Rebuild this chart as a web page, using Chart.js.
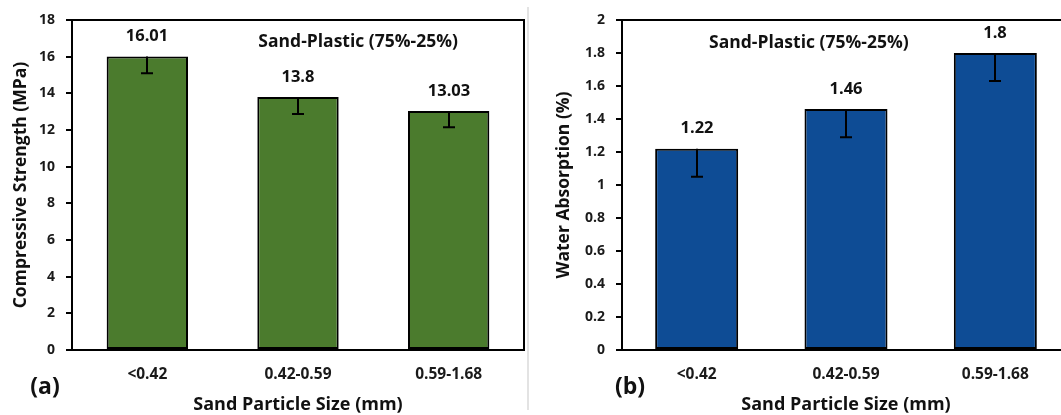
<!DOCTYPE html>
<html><head><meta charset="utf-8">
<script src="https://cdn.jsdelivr.net/npm/chart.js@4.4.1/dist/chart.umd.min.js"></script>
<style>
html,body{margin:0;padding:0;background:#fff;overflow:hidden;width:1061px;height:415px;}
#wrap{position:relative;width:1061px;height:415px;overflow:hidden;}
canvas{position:absolute;top:0;}
#ca{left:0;}
#cb{left:530px;}
#sep{position:absolute;left:527px;top:7px;width:2px;height:403px;background:#e3e3e3;}
</style></head><body>
<div id="wrap"><canvas id="ca" width="530" height="415"></canvas><div id="sep"></div><canvas id="cb" width="545" height="415"></canvas></div>
<script>
// ---- data ----
const categories = ['<0.42', '0.42-0.59', '0.59-1.68'];
const strengthValues = [16.01, 13.8, 13.03];
const strengthErrors = [0.92, 0.93, 0.88];
const strengthLabels = ['16.01', '13.8', '13.03'];
const strengthTicks = [0, 2, 4, 6, 8, 10, 12, 14, 16, 18];
const absorptionValues = [1.22, 1.46, 1.8];
const absorptionErrors = [0.17, 0.17, 0.17];
const absorptionLabels = ['1.22', '1.46', '1.8'];
const absorptionTicks = [0, 0.2, 0.4, 0.6, 0.8, 1, 1.2, 1.4, 1.6, 1.8, 2];

const FONT = '"Open Sans", Lato, sans-serif';

const extras = {
  id: 'extras',
  afterDatasetsDraw(chart, args, o) {
    const {ctx, chartArea: a, scales: {y}} = chart;
    const meta = chart.getDatasetMeta(0);
    ctx.save();
    ctx.strokeStyle = '#000';
    ctx.lineWidth = 2;
    ctx.fillStyle = '#111';
    ctx.textAlign = 'center';
    ctx.textBaseline = 'middle';
    meta.data.forEach((bar, i) => {
      const v = o.values[i], e = o.errors[i];
      const px = Math.round(bar.x);
      const top = y.getPixelForValue(v), bot = y.getPixelForValue(v - e);
      ctx.beginPath();
      ctx.moveTo(px, top); ctx.lineTo(px, bot);
      ctx.moveTo(px - o.cap, bot); ctx.lineTo(px + o.cap, bot);
      ctx.stroke();
      ctx.font = o.labelFont;
      ctx.fillText(o.labels[i], px, top - o.labelGap);
    });
    ctx.beginPath();
    ctx.moveTo(a.left, a.top); ctx.lineTo(a.right, a.top); ctx.lineTo(a.right, a.bottom);
    ctx.stroke();
    ctx.font = o.noteFont;
    ctx.fillText(o.note, a.left + o.noteX * (a.right - a.left), a.top + o.noteY * (a.bottom - a.top));
    ctx.font = o.letterFont;
    ctx.fillText(o.letter, o.letterX, o.letterY);
    ctx.restore();
  }
};

function makeChart(id, c) {
  return new Chart(document.getElementById(id), {
    type: 'bar',
    data: {
      labels: categories,
      datasets: [{
        data: c.values,
        backgroundColor: c.color,
        borderColor: '#000',
        borderWidth: 2,
        borderSkipped: false,
        categoryPercentage: 1,
        barPercentage: c.barPct
      }]
    },
    plugins: [extras],
    options: {
      responsive: false,
      animation: false,
      devicePixelRatio: 1,
      layout: {padding: {left: 0, right: c.padRight, top: 20, bottom: 0}},
      plugins: {
        legend: {display: false},
        tooltip: {enabled: false},
        extras: {
          values: c.values, errors: c.errors, labels: c.labels, cap: 6,
          labelFont: 'bold 16.5px ' + FONT, labelGap: 20,
          note: 'Sand-Plastic (75%-25%)', noteFont: 'bold 17.5px ' + FONT,
          noteX: c.noteX, noteY: c.noteY,
          letter: c.letter, letterFont: 'bold 23px ' + FONT, letterX: c.letterX, letterY: 387
        }
      },
      scales: {
        x: {
          grid: {display: false, drawTicks: false, tickLength: 0},
          border: {display: true, color: '#000', width: 2},
          ticks: {color: '#1a1a1a', font: {family: FONT, size: 15.5, weight: 'bold'}, padding: 15.5, maxRotation: 0},
          title: {display: true, text: 'Sand Particle Size (mm)', color: '#111',
                  font: {family: FONT, size: 18, weight: 'bold', lineHeight: 1.1}, padding: {top: 0, bottom: 0}},
          afterFit: s => { s.height = 65; }
        },
        y: {
          min: 0, max: c.max,
          afterBuildTicks: s => { s.ticks = c.ticks.map(v => ({value: v})); },
          grid: {display: true, drawOnChartArea: false, drawTicks: true, tickLength: 6, color: '#000', lineWidth: 2},
          border: {display: true, color: '#000', width: 2},
          ticks: {color: '#1a1a1a', font: {family: FONT, size: 14, weight: 'bold'}, padding: 11,
                  callback: v => String(+Number(v).toFixed(1))},
          title: {display: true, text: c.yTitle, color: '#111',
                  font: {family: FONT, size: 17.5, weight: 'bold', lineHeight: 1.2}, padding: {top: c.yTitlePad, bottom: 0}},
          afterFit: s => { s.width = c.yWidth; }
        }
      }
    }
  });
}

makeChart('ca', {
  values: strengthValues, errors: strengthErrors, labels: strengthLabels, ticks: strengthTicks,
  max: 18, color: '#4b7b2d', barPct: 0.54, padRight: 6, yWidth: 72, yTitlePad: 11,
  yTitle: 'Compressive Strength (MPa)', noteX: 0.633, noteY: 0.066, letter: '(a)', letterX: 45
});
makeChart('cb', {
  values: absorptionValues, errors: absorptionErrors, labels: absorptionLabels, ticks: absorptionTicks,
  max: 2, color: '#0e4c95', barPct: 0.556, padRight: 5, yWidth: 92, yTitlePad: 24,
  yTitle: 'Water Absorption (%)', noteX: 0.417, noteY: 0.07, letter: '(b)', letterX: 100
});
</script>
</body></html>
